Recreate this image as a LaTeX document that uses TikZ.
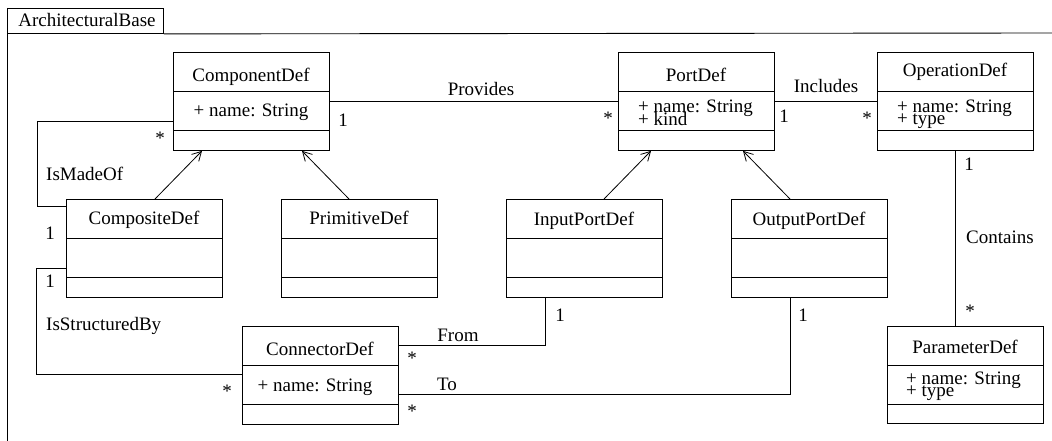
\documentclass[tikz,border=0pt]{standalone}
\usepackage{fontspec}
\setmainfont{Liberation Serif}
\usetikzlibrary{arrows.meta,calc}
\tikzset{
  cls/.style={draw, line width=0.9pt, minimum width=156pt, minimum height=98pt, anchor=north west, inner sep=0pt},
  txt/.style={font=\fontsize{19pt}{21pt}\selectfont, inner sep=0pt},
  ttl/.style={txt, anchor=base},
  attr/.style={txt, anchor=base west},
  lbl/.style={txt, anchor=center},
  assoc/.style={line width=0.9pt},
  gen/.style={line width=0.8pt, -{Straight Barb[length=9pt,width=10pt,line width=0.8pt]}},
}
\begin{document}
\begin{tikzpicture}[x=1pt,y=-1pt]
\useasboundingbox (0,0) rectangle (1052,441);
% frame
\node[draw, line width=0.9pt, anchor=north west, minimum width=156pt, minimum height=25pt, inner sep=0pt] (tab) at (7,8) {};
\node[ttl] (tabtxt) at (87,27) {ArchitecturalBase};
\draw[line width=0.9pt] (7,8) -- (7,441);
\draw[line width=0.9pt] (tab.south east) -- (1052,33);

% classes
\node[cls] (comp) at (173,52) {};
\node[cls] (composite) at (66,199) {};
\node[cls] (prim) at (281,199) {};
\node[cls] (port) at (618,52) {};
\node[cls] (oper) at (877,52) {};
\node[cls] (inport) at (506,199) {};
\node[cls] (outport) at (731,199) {};
\node[cls] (conn) at (242,326) {};
\node[cls, minimum height=97pt] (param) at (887,326) {};

% dividers
\foreach \n in {comp,composite,prim,port,oper,inport,outport,conn,param}{
  \draw[line width=0.9pt] ([yshift=-39pt]\n.north west) -- ([yshift=-39pt]\n.north east);
  \draw[line width=0.9pt] ([yshift=-78pt]\n.north west) -- ([yshift=-78pt]\n.north east);
}

% titles
\node[ttl] (tcomp) at (251,82) {ComponentDef};
\node[ttl] (tcomposite) at (144,224) {CompositeDef};
\node[ttl] (tprim) at (359,224) {PrimitiveDef};
\node[ttl] (tport) at (696,82) {PortDef};
\node[ttl] (toper) at (955,77) {OperationDef};
\node[ttl] (tin) at (584,225) {InputPortDef};
\node[ttl] (tout) at (809,225) {OutputPortDef};
\node[ttl] (tconn) at (320,355) {ConnectorDef};
\node[ttl] (tparam) at (965,353) {ParameterDef};

% attributes
\node[ttl] (acomp) at (251,117) {+ name: String};
\node[ttl] (aconn) at (315,391) {+ name: String};
\node[attr] (aport1) at (638,113) {+ name: String};
\node[attr] (aport2) at (638,126) {+ kind};
\node[attr] (aoper1) at (897,113) {+ name: String};
\node[attr] (aoper2) at (897,125) {+ type};
\node[attr] (aparam1) at (906,384) {+ name: String};
\node[attr] (aparam2) at (906,396) {+ type};

% associations
\draw[assoc] (comp.east) -- (port.west);
\draw[assoc] (port.east) -- (oper.west);
\draw[assoc] (oper.south) -- (oper.south |- param.north);
\draw[assoc] ([yshift=-69pt]comp.north west) -| (37,206) -- ([yshift=-7pt]composite.north west);
\draw[assoc] ([yshift=-69pt]composite.north west) -| (36,374) -- ([yshift=-48pt]conn.north west);
\draw[assoc] ([yshift=-19pt]conn.north east) -| ([xshift=39pt]inport.south west);
\draw[assoc] ([yshift=-68pt]conn.north east) -| ([xshift=59pt]outport.south west);

% generalizations
\draw[gen] ([xshift=89pt]composite.north west) -- ([xshift=29pt]comp.south west);
\draw[gen] ([xshift=68pt]prim.north west) -- ([xshift=129pt]comp.south west);
\draw[gen] ([xshift=98pt]inport.north west) -- ([xshift=33pt]port.south west);
\draw[gen] ([xshift=59pt]outport.north west) -- ([xshift=125pt]port.south west);

% association labels
\node[ttl] (lprov) at (481,96) {Provides};
\node[lbl] (m1) at (343,120) {1};
\node[lbl] (m2) at (608,118) {*};
\node[ttl] (lincl) at (826,93) {Includes};
\node[lbl] (m3) at (784,116) {1};
\node[lbl] (m4) at (867,118) {*};
\node[lbl] (m5) at (969,164) {1};
\node[lbl] (lcont) at (1000,237) {Contains};
\node[lbl] (m6) at (970,311) {*};
\node[lbl] (m7) at (160,138) {*};
\node[lbl, anchor=west] (lmade) at (46,174) {IsMadeOf};
\node[lbl] (m8) at (50,233) {1};
\node[lbl] (m9) at (50,281) {1};
\node[lbl, anchor=west] (lstruct) at (46,326) {IsStructuredBy};
\node[lbl] (m10) at (227,391) {*};
\node[lbl] (lfrom) at (458,335) {From};
\node[lbl] (m11) at (412,358) {*};
\node[lbl] (m12) at (560,315) {1};
\node[lbl] (lto) at (447,384) {To};
\node[lbl] (m13) at (412,411) {*};
\node[lbl] (m14) at (803,315) {1};
\end{tikzpicture}
\end{document}
